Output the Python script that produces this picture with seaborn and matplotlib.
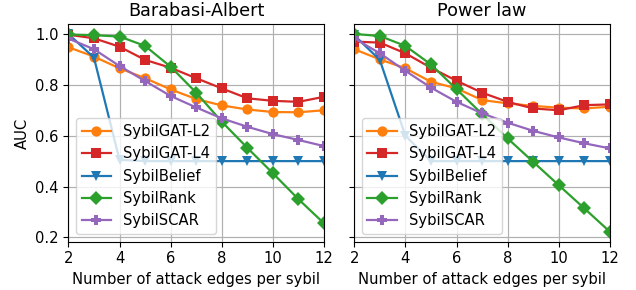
import pandas as pd
import matplotlib
matplotlib.use('Agg')
import matplotlib.pyplot as plt
import seaborn as sns

edges = [2, 3, 4, 5, 6, 7, 8, 9, 10, 11, 12]
methods = ['SybilGAT-L2', 'SybilGAT-L4', 'SybilBelief', 'SybilRank', 'SybilSCAR']
colors = ['#ff7f0e', '#d62728', '#1f77b4', '#2ca02c', '#9467bd']
markers = ['o', 's', 'v', 'D', 'P']
titles = ['Barabasi-Albert', 'Power law']

# Barabasi-Albert
ba_gat_l2 = [0.948, 0.911, 0.865, 0.826, 0.782, 0.744, 0.719, 0.703, 0.693, 0.692, 0.700]
ba_gat_l4 = [0.997, 0.983, 0.950, 0.898, 0.867, 0.826, 0.786, 0.747, 0.737, 0.733, 0.753]
ba_belief = [1.000, 0.907, 0.505, 0.500, 0.500, 0.500, 0.500, 0.500, 0.500, 0.500, 0.500]
ba_rank = [0.998, 0.995, 0.990, 0.953, 0.871, 0.769, 0.655, 0.552, 0.452, 0.350, 0.255]
ba_scar = [0.982, 0.940, 0.874, 0.815, 0.756, 0.711, 0.668, 0.635, 0.606, 0.583, 0.559]

# Power law
pl_gat_l2 = [0.940, 0.900, 0.865, 0.812, 0.786, 0.740, 0.727, 0.717, 0.710, 0.707, 0.714]
pl_gat_l4 = [0.970, 0.966, 0.924, 0.867, 0.816, 0.769, 0.733, 0.707, 0.700, 0.720, 0.723]
pl_belief = [0.995, 0.898, 0.600, 0.500, 0.500, 0.500, 0.500, 0.500, 0.500, 0.500, 0.500]
pl_rank = [1.000, 0.992, 0.953, 0.880, 0.783, 0.685, 0.589, 0.497, 0.405, 0.314, 0.222]
pl_scar = [0.983, 0.924, 0.855, 0.789, 0.733, 0.688, 0.651, 0.619, 0.593, 0.570, 0.550]

panels = [
    [ba_gat_l2, ba_gat_l4, ba_belief, ba_rank, ba_scar],
    [pl_gat_l2, pl_gat_l4, pl_belief, pl_rank, pl_scar],
]

fs = 10.6

fig, axes = plt.subplots(1, 2, figsize=(6.36, 2.9), dpi=100, sharey=True)
fig.subplots_adjust(left=0.1075, right=0.959, bottom=0.1666, top=0.917, wspace=0.118)

for ax, title, series in zip(axes, titles, panels):
    rows = []
    for m, vals in zip(methods, series):
        for x, v in zip(edges, vals):
            rows.append({'edges': x, 'auc': v, 'method': m})
    df = pd.DataFrame(rows)
    for m, c, mk in zip(methods, colors, markers):
        sns.lineplot(data=df[df['method'] == m], x='edges', y='auc', ax=ax,
                     color=c, marker=mk, markersize=7.4, markeredgewidth=0,
                     linewidth=1.6, label=m)
    ax.set_title(title, fontsize=12.7)
    ax.set_xlim(2, 12)
    ax.set_xticks([2, 4, 6, 8, 10, 12])
    ax.set_yticks([0.2, 0.4, 0.6, 0.8, 1.0])
    ax.grid(True, color='#b0b0b0', linewidth=0.85)
    ax.set_axisbelow(True)
    ax.set_xlabel('Number of attack edges per sybil', fontsize=fs)
    ax.set_ylabel('AUC', fontsize=fs)
    ax.tick_params(labelsize=fs)
    ax.legend(loc='lower left', fontsize=fs)

axes[1].set_ylabel('')
fig.savefig('out.png', dpi=100)
